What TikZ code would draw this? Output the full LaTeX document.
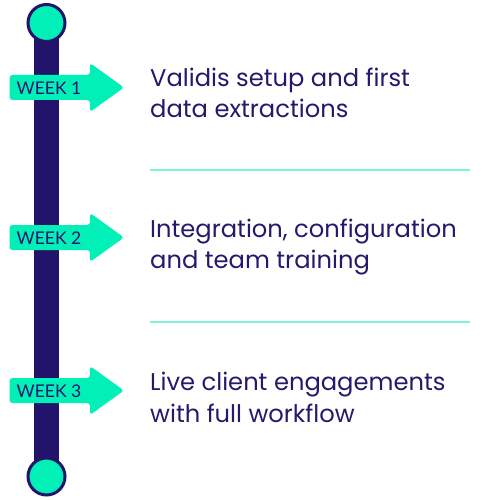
\documentclass[tikz,border=0pt]{standalone}
\usepackage{fontspec}
\setmainfont{Poppins}
\newfontfamily\labelfont{Lato}
\definecolor{navy}{HTML}{21146A}
\definecolor{mint}{HTML}{00F0B8}
\definecolor{lightmint}{HTML}{80F3DA}
\definecolor{txt}{HTML}{241A6B}
\begin{document}
\begin{tikzpicture}[x=1pt,y=-1pt,
  dot/.style={circle,fill=mint,draw=navy,line width=3pt,minimum size=37pt,inner sep=0pt},
  weekarrow/.style={fill=mint,rounded corners=3pt},
  weeklabel/.style={anchor=base west,inner sep=0pt,text=navy,font=\labelfont\fontsize{17.5}{18}\selectfont},
  desc/.style={anchor=base west,inner sep=0pt,text=txt,align=left,font=\fontsize{24.2}{31.5}\selectfont},
  sep/.style={draw=lightmint,line width=2pt}]
\useasboundingbox (0,0) rectangle (500,500);
\coordinate (top) at (46.5,23);
\coordinate (bot) at (46.5,476.5);
\fill[navy] (34,23) rectangle (59,476.5);
\foreach \c/\n in {87.5/1,237.5/2,390.5/3}{
  \fill[weekarrow] (9.5,\c-12.5) -- (90,\c-12.5) -- (90,\c-24.5) -- (124,\c) -- (90,\c+24.5) -- (90,\c+12.5) -- (9.5,\c+12.5) -- cycle;
  \node[weeklabel] (w\n) at (16.5,\c+7) {WEEK \n};
}
\node[dot] (d1) at (top) {};
\node[dot] (d2) at (bot) {};
\node[desc] (t1) at (150,117.5) {Validis setup and first\\data extractions};
\node[desc] (t2) at (150,268.5) {Integration, configuration\\and team training};
\node[desc] (t3) at (150,422) {Live client engagements\\with full workflow};
\coordinate (l1a) at (150,170); \coordinate (l1b) at (470,170);
\coordinate (l2a) at (150,322); \coordinate (l2b) at (470,322);
\draw[sep] (l1a) -- (l1b);
\draw[sep] (l2a) -- (l2b);
\end{tikzpicture}
\end{document}
